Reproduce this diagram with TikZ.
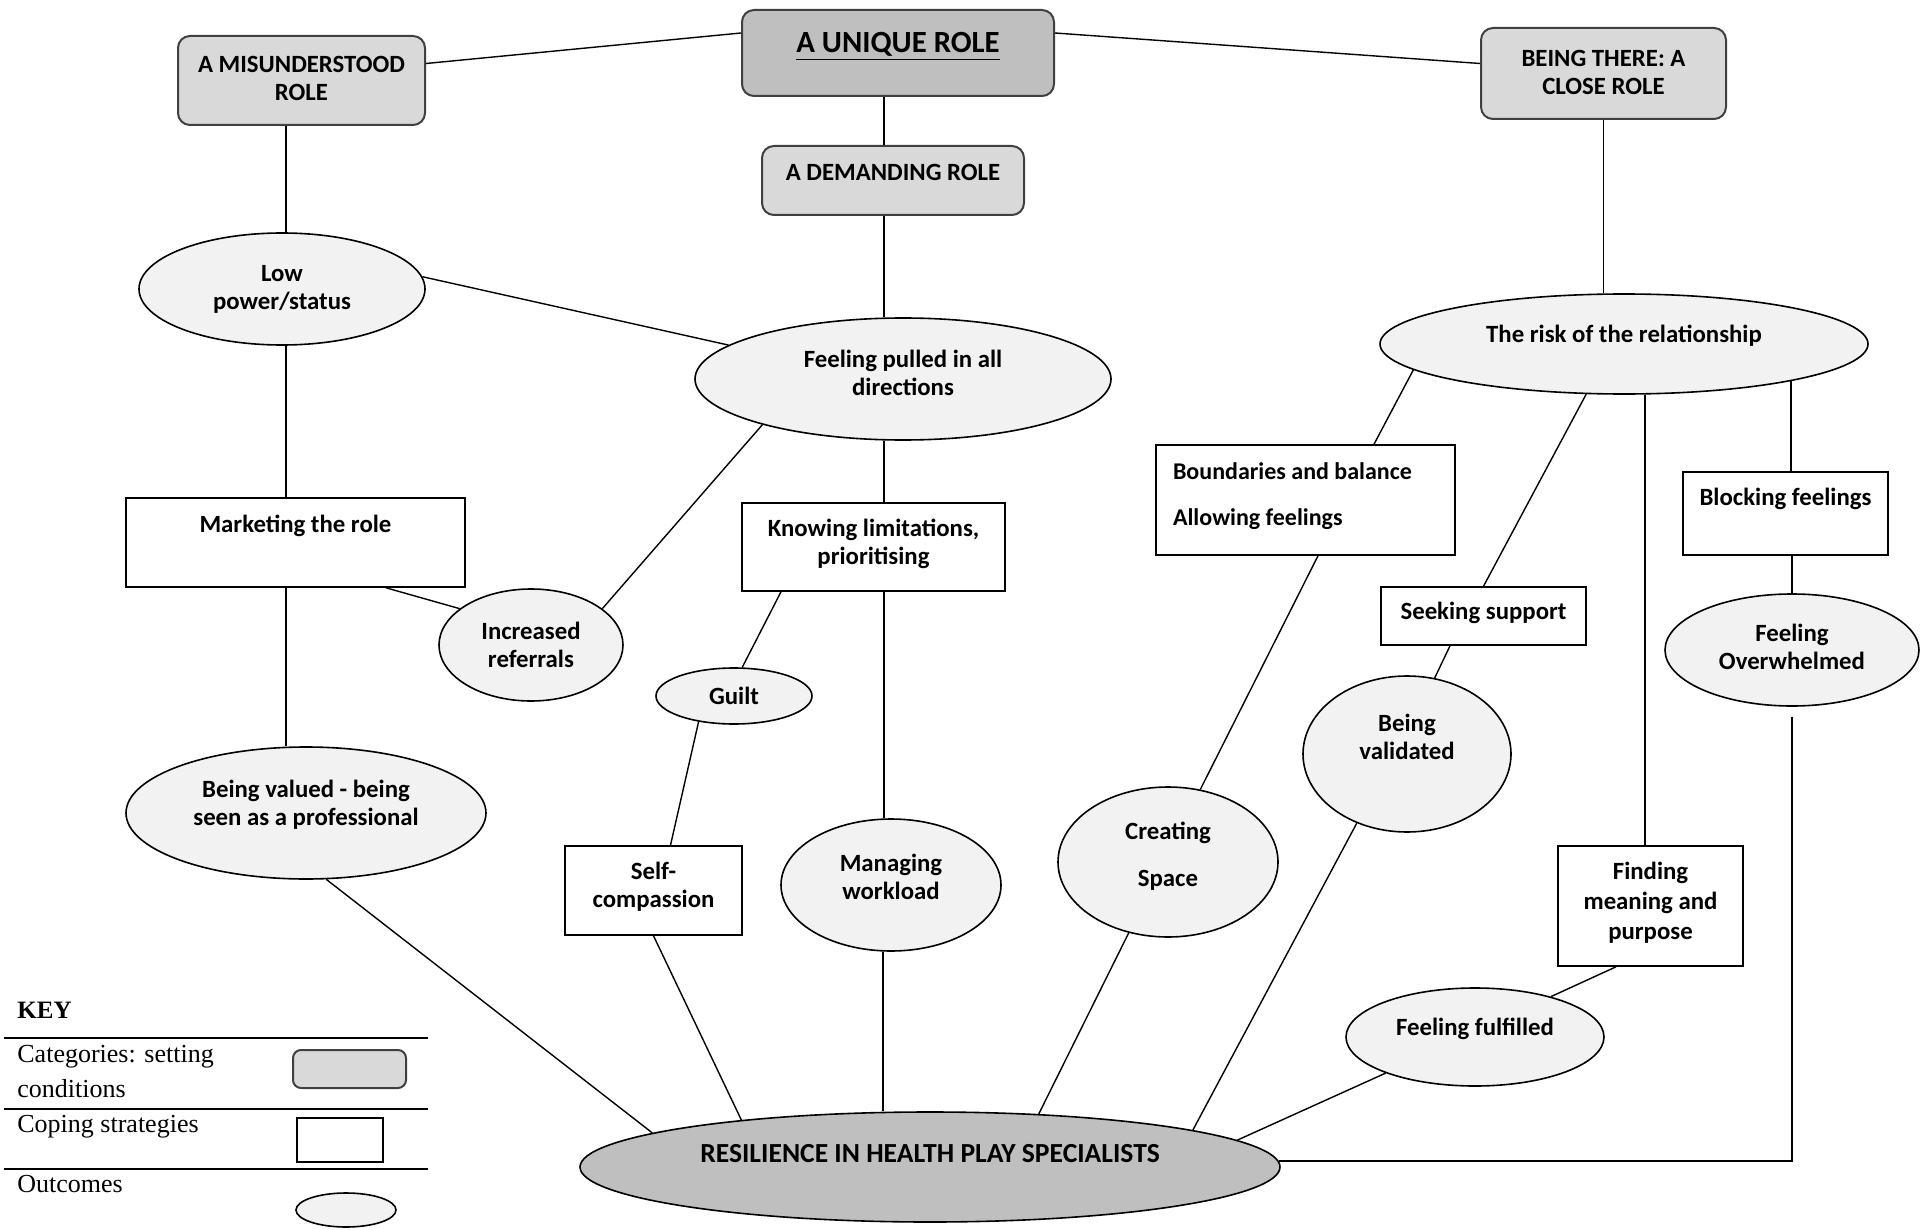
\documentclass[tikz,border=0pt]{standalone}
\usepackage{fontspec}
\setmainfont{Carlito}
\newfontfamily\keyfont{Liberation Serif}
\usetikzlibrary{shapes.geometric,calc}
\definecolor{catfill}{HTML}{D9D9D9}
\definecolor{unifill}{HTML}{BFBFBF}
\definecolor{resfill}{HTML}{BFBFBF}
\definecolor{outfill}{HTML}{F2F2F2}
\definecolor{catborder}{HTML}{404040}
\tikzset{
  sz/.style 2 args={minimum width=#1,minimum height=#2},
  nodefont/.style={font=\bfseries\fontsize{12.4}{14}\selectfont},
  cat/.style={draw=catborder,line width=1pt,rounded corners=6pt,fill=catfill,align=center,inner sep=0pt,nodefont},
  strat/.style={draw=black,line width=0.8pt,fill=white,align=center,inner sep=0pt,nodefont},
  outc/.style={ellipse,draw=black,line width=0.8pt,fill=outfill,align=center,inner sep=0pt,nodefont},
  link/.style={draw=black,line width=0.7pt},
  keyline/.style={draw=black,line width=0.8pt},
  keytext/.style={anchor=base west,inner sep=0pt,font=\keyfont\fontsize{13}{14}\selectfont}
}
\begin{document}
\begin{tikzpicture}[x=0.5pt,y=-0.5pt]
\path[use as bounding box] (0,0) rectangle (1922,1230);

% categories
\node[cat,fill=unifill,sz={156pt}{43pt},text depth=10.5pt,font=\bfseries\fontsize{15.4}{17}\selectfont] (uni) at (898,53) {\underline{A UNIQUE ROLE}};
\node[cat,sz={123.5pt}{44.5pt},text depth=2.5pt] (mis) at (301.5,80.5) {A MISUNDERSTOOD\\ROLE};
\node[cat,sz={122.5pt}{45.5pt},text depth=1.5pt] (bei) at (1603.5,73.5) {BEING THERE: A\\CLOSE ROLE};
\node[cat,sz={131pt}{34.5pt},text depth=8.5pt] (dem) at (893,180.5) {A DEMANDING ROLE};

% outcomes and strategies
\node[outc,sz={143pt}{56pt}] (low) at (282,289) {Low\\power/status};
\node[outc,sz={208pt}{61pt},text depth=6pt] (fp) at (903,379) {Feeling pulled in all\\directions};
\node[outc,sz={244pt}{50pt},text depth=10pt] (risk) at (1624,344) {The risk of the relationship};
\node[strat,sz={169.5pt}{44.5pt},text depth=18.5pt] (mk) at (295.5,542.5) {Marketing the role};
\node[strat,sz={131.5pt}{44pt},text depth=5pt] (kn) at (873.5,547) {Knowing limitations,\\prioritising};
\node[strat,sz={149.5pt}{55pt},align=left,text depth=5.5pt,font=\bfseries\fontsize{12}{14}\selectfont] (bb) at (1305.5,500) {\makebox[132.5pt][l]{Boundaries and balance}\\[9pt]Allowing feelings};
\node[strat,sz={102.5pt}{41.5pt},text depth=16.5pt] (blk) at (1785.5,513.5) {Blocking feelings};
\node[strat,sz={102.5pt}{29pt},text depth=5pt] (ss) at (1483.5,616) {Seeking support};
\node[outc,sz={92pt}{56pt}] (ir) at (531,645) {Increased\\referrals};
\node[outc,sz={78pt}{28pt}] (gu) at (734,696) {Guilt};
\node[outc,sz={180pt}{66pt},text depth=10pt] (bv) at (306,813) {Being valued - being\\seen as a professional};
\node[strat,sz={88.5pt}{44.5pt},text depth=5.5pt] (sc) at (653.5,890.5) {Self-\\compassion};
\node[outc,sz={110pt}{66pt},text depth=8pt] (mw) at (891,885) {Managing\\workload};
\node[outc,sz={110pt}{75pt},text depth=7.5pt] (cs) at (1168,862) {Creating\\[9.5pt]Space};
\node[outc,sz={104pt}{78pt},text depth=17pt] (bvd) at (1407,754) {Being\\validated};
\node[outc,sz={127pt}{56pt},text depth=3pt] (fo) at (1792,650) {Feeling\\Overwhelmed};
\node[strat,sz={92.5pt}{60pt},text depth=5.5pt] (fm) at (1650.5,906) {Finding\\[1pt]meaning and\\[1pt]purpose};
\node[outc,sz={129pt}{49pt},text depth=10pt] (ff) at (1475,1037) {Feeling fulfilled};
\node[outc,fill=resfill,sz={350pt}{55pt},text depth=14pt,font=\bfseries\fontsize{13.8}{15}\selectfont] (res) at (930,1167) {RESILIENCE IN HEALTH PLAY SPECIALISTS};

% connectors
\draw[link] ($(mis.east)+(0,-17)$) -- ($(uni.west)+(0,-20)$);
\draw[link] ($(uni.east)+(0,-20)$) -- ($(bei.west)+(0,-10)$);
\draw[link] ($(uni.south)+(-14,0)$) -- ($(dem.north)+(-9,0)$);
\draw[link] ($(dem.south)+(-9,0)$) -- ($(fp.north)+(-19,0)$);
\draw[link] ($(mis.south -| low.north)+(4,0)$) -- ($(low.north)+(4,0)$);
\draw[link] (low.5) -- (fp.169);
\draw[link] ($(low.south)+(4,0)$) -- ($(low.south |- mk.north)+(4,0)$);
\draw[link] ($(mk.south -| low.south)+(4,0)$) -- ($(bv.north -| low.south)+(4,0)$);
\draw[link] ($(mk.south)+(90.5,0)$) -- (ir.153);
\draw[link] (ir.27) -- (fp.198);
\draw[link] ($(fp.south)+(-19,0)$) -- ($(kn.north)+(10.5,0)$);
\draw[link] ($(kn.south)+(-92.5,0)$) -- (gu.74);
\draw[link] ($(kn.south)+(10.5,0)$) -- ($(mw.north)+(-7,0)$);
\draw[link] (gu.216) -- ($(sc.north)+(17,0)$);
\draw[link] (bei.south) -- (bei.south |- risk.north);
\draw[link] (risk.187) -- ($(bb.north)+(68.5,0)$);
\draw[link] (risk.233) -- (ss.north);
\draw[link] ($(ss.south)+(-33.5,0)$) -- (bvd.70);
\draw[link] ($(risk.south)+(21,0)$) -- ($(fm.north)+(-5.5,0)$);
\coordinate (rk) at ($(risk.center)+(167,36.5)$);
\draw[link] (rk) -- (rk |- blk.north);
\draw[link] (blk.south -| fo.north) -- (fo.north);
\draw[link] ($(fo.south)+(0,10)$) |- (res.1);
\draw[link] ($(bb.south)+(12.5,0)$) -- (cs.66);
\draw[link] (cs.241) -- (res.26);
\draw[link] (bvd.234) -- (res.8);
\draw[link] ($(fm.south)+(-34.5,0)$) -- (ff.28);
\draw[link] (ff.202) -- (res.5);
\draw[link] (bv.-73) -- (res.173);
\draw[link] (sc.south) -- (res.166);
\draw[link] ($(mw.south)+(-8,0)$) -- ($(res.north)+(-47,0)$);

% key
\node[keytext,font=\keyfont\bfseries\fontsize{12.5}{14}\selectfont] (keyt) at (17,1018) {KEY};
\draw[keyline] (4,1038) -- (428,1038);
\draw[keyline] (4,1109) -- (428,1109);
\draw[keyline] (4,1169) -- (428,1169);
\node[keytext] (k1) at (17,1062) {Categories: setting};
\node[keytext] (k1b) at (17,1097) {conditions};
\node[keytext] (k2) at (17,1132) {Coping strategies};
\node[keytext] (k3) at (17,1192) {Outcomes};
\node[cat,rounded corners=4pt,sz={56.5pt}{19pt}] (kcat) at (349.5,1069) {};
\node[strat,sz={43pt}{22pt}] (kstr) at (340,1140) {};
\node[outc,sz={50pt}{17pt}] (kout) at (346,1210) {};
\end{tikzpicture}
\end{document}
